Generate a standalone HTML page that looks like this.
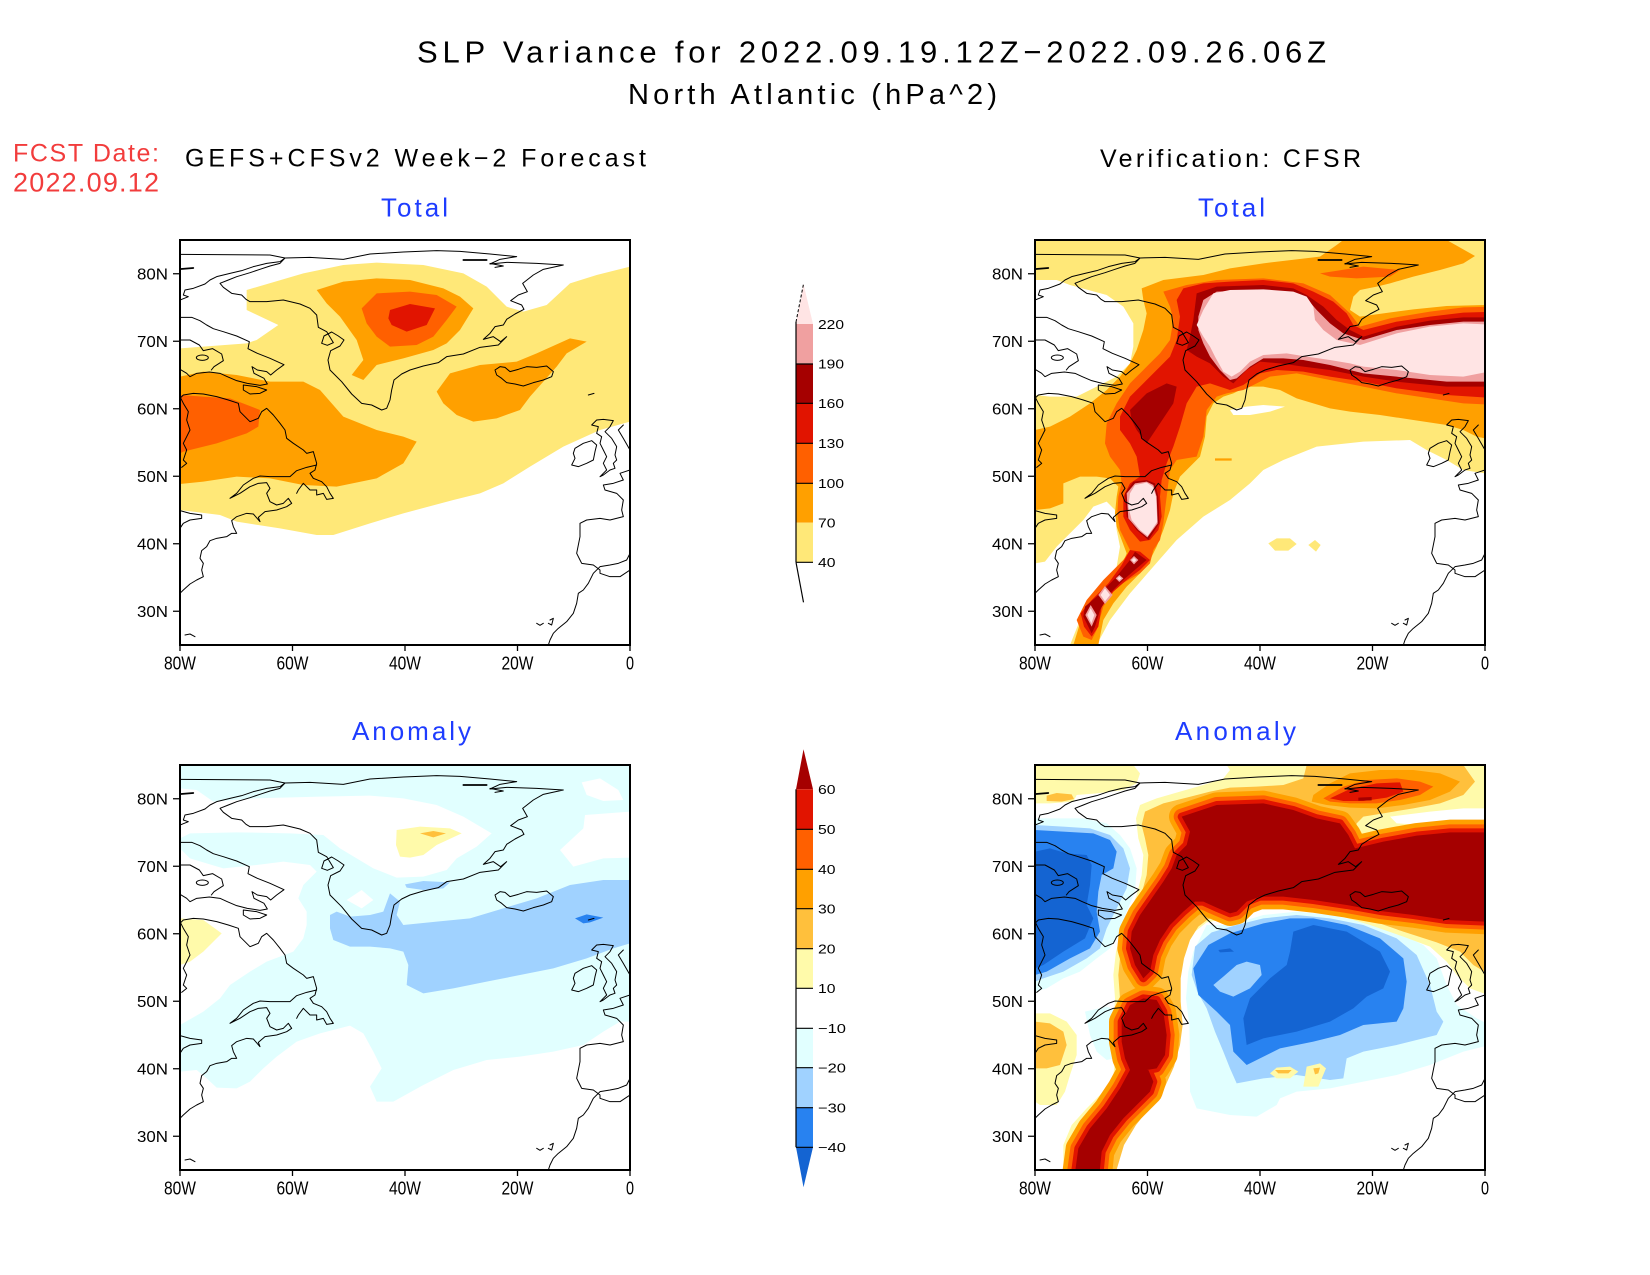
<!DOCTYPE html>
<html><head><meta charset="utf-8"><title>SLP Variance</title>
<style>html,body{margin:0;padding:0;background:#fff;}svg{display:block;}text{font-family:"Liberation Sans",Arial,sans-serif;}</style>
</head><body>
<svg xmlns="http://www.w3.org/2000/svg" xmlns:xlink="http://www.w3.org/1999/xlink" width="1650" height="1275" viewBox="0 0 1650 1275">
<rect width="1650" height="1275" fill="#fff"/>
<defs>
<g id="coast" fill="none" stroke="#000" stroke-width="3" stroke-linejoin="round" stroke-linecap="round">
<path d="M30,73 L300,75 L345,84 L330,95 L290,100 L250,110 L215,122 L180,130 L140,140 L120,150 L105,162 L70,175 L45,180 L40,195 L55,200 L30,210"/>
<path d="M33,117 L70,114" stroke-width="5"/>
<path d="M345,84 L420,82 L520,88 L600,72 L700,66 L800,62 L870,64 L960,72 L1040,80 L990,88 L960,102 L1010,97 L1100,100 L1180,105 L1120,118 L1090,135 L1058,160 L1072,185 L1045,195 L1022,212 L1055,225 L1062,238 L1035,252 L1010,268 L1000,285 L975,290 L960,310 L940,328 L970,320 L992,335 L1010,320 L985,345 L930,352 L880,372 L830,380 L805,398 L760,408 L720,420 L695,432 L672,450 L665,480 L660,510 L650,535 L635,540 L605,525 L575,520 L545,492 L515,455 L480,420 L474,390 L482,362 L510,348 L522,330 L505,318 L485,306 L462,318 L455,340 L472,346 L490,338 L470,305 L445,292 L440,255 L420,235 L390,222 L340,210 L290,215 L240,215 L228,208 L215,195 L185,190 L160,172 L150,160 L175,150 L200,140 L240,128 L270,118 L300,108 L330,100 L345,84"/>
<path d="M880,90 L950,90" stroke-width="5"/>
<path d="M960,100 L1000,108 L975,112"/>
<path d="M30,262 L65,262 L90,272 L110,285 L130,296 L160,305 L200,318 L238,335 L234,356 L262,370 L300,385 L342,404 L320,420 L302,435 L290,425 L262,420 L246,410 L252,430 L282,445 L292,462 L270,466 L232,460 L200,452 L172,440 L150,430 L118,426 L80,430 L60,440 L50,430 L30,418"/>
<path d="M30,330 L60,330 L88,345 L100,362 L128,356 L155,372 L160,392 L132,410 L124,420"/>
<ellipse cx="97" cy="383" rx="18" ry="8"/>
<path d="M220,465 L260,470 L290,480 L270,490 L240,492 L220,480 Z"/>
<path d="M30,505 L40,495 L70,490 L100,492 L140,500 L175,510 L205,520 L210,545 L225,560 L240,575 L265,565 L275,545 L290,535 L310,555 L330,580 L345,600 L350,625 L370,640 L400,660 L410,670 L430,665 L440,700 L435,720 L420,730 L430,745 L455,755 L470,770 L480,790 L490,805 L470,808 L460,790 L440,795 L440,780 L420,780 L400,760 L385,780 L380,790"/>
<path d="M440,705 L410,712 L380,722 L360,740 L300,740 L270,738 L250,745 L220,765 L200,790 L180,805 L210,790 L240,770 L265,760 L290,758 L300,775 L290,790 L300,815 L320,825 L340,820 L355,805 L365,820 L350,830 L320,840 L285,845 L265,862 L270,875 L250,852 L230,850 L200,860 L185,872 L190,890 L200,910 L185,910 L170,920 L140,925 L120,932 L110,950 L95,962 L90,985 L100,1000 L95,1020 L100,1040 L80,1050 L60,1062 L40,1080 L30,1090"/>
<path d="M30,500 L40,520 L55,545 L50,570 L60,600 L50,620 L40,640 L50,660 L40,690 L50,700 L35,712"/>
<path d="M30,842 L60,850 L95,855 L95,865 L60,870 L40,880 L30,895"/>
<path d="M975,420 L990,410 L1005,412 L1020,425 L1045,418 L1070,410 L1100,412 L1130,408 L1150,425 L1145,440 L1120,450 L1090,458 L1060,468 L1035,462 L1010,458 L995,445 L980,435 Z"/>
<path d="M1255,495 L1272,490"/>
<path d="M1215,655 L1240,640 L1265,632 L1280,645 L1275,665 L1270,690 L1250,700 L1225,710 L1205,705 L1215,685 L1210,670 Z"/>
<path d="M1265,585 L1280,570 L1300,568 L1330,572 L1320,590 L1305,605 L1325,625 L1340,650 L1335,675 L1340,690 L1330,700 L1335,715 L1320,720 L1300,735 L1290,740 L1310,720 L1300,700 L1310,680 L1300,660 L1290,640 L1295,620 L1280,610 L1285,590 Z"/>
<path d="M1360,585 L1345,600 L1360,625 L1380,660"/>
<path d="M1380,720 L1350,730 L1360,750 L1330,760 L1300,765 L1305,780 L1340,790 L1360,810 L1355,840 L1360,860 L1320,870 L1290,865 L1250,870 L1230,880 L1230,920 L1220,970 L1230,990 L1235,1000 L1270,1005 L1290,1020 L1290,1030 L1320,1040 L1350,1040 L1380,1020"/>
<path d="M1380,970 L1370,990 L1345,1000 L1320,1005 L1290,1010 L1270,1030 L1255,1060 L1240,1080 L1225,1090 L1220,1120 L1210,1150 L1190,1175 L1165,1195 L1150,1210 L1140,1230 L1135,1245"/>
<path d="M1100,1180 L1110,1186 L1120,1180"/>
<path d="M1140,1170 L1150,1165 L1145,1185 L1135,1180"/>
<path d="M45,1215 L60,1212 L75,1220"/>
</g>
</defs>

<!-- Titles -->
<text x="417" y="62.5" font-size="31" textLength="909" lengthAdjust="spacing" fill="#000">SLP Variance for 2022.09.19.12Z−2022.09.26.06Z</text>
<text x="628" y="104" font-size="29" textLength="369" lengthAdjust="spacing" fill="#000">North Atlantic (hPa^2)</text>
<text x="13" y="161.7" font-size="25" textLength="146" lengthAdjust="spacing" fill="#F23C3C">FCST Date:</text>
<text x="13" y="191.7" font-size="27" textLength="146" lengthAdjust="spacing" fill="#F23C3C">2022.09.12</text>
<text x="185" y="166.7" font-size="25" textLength="461" lengthAdjust="spacing" fill="#000">GEFS+CFSv2 Week−2 Forecast</text>
<text x="1100" y="167" font-size="25" textLength="261" lengthAdjust="spacing" fill="#000">Verification: CFSR</text>
<text x="381" y="216.7" font-size="26" textLength="67" lengthAdjust="spacing" fill="#1E3CFF">Total</text>
<text x="1198" y="216.7" font-size="26" textLength="67" lengthAdjust="spacing" fill="#1E3CFF">Total</text>
<text x="352" y="740" font-size="26" textLength="119" lengthAdjust="spacing" fill="#1E3CFF">Anomaly</text>
<text x="1175" y="740" font-size="26" textLength="121" lengthAdjust="spacing" fill="#1E3CFF">Anomaly</text>

<!-- TOP LEFT -->
<svg x="180" y="240" width="450" height="405" viewBox="30 30 1350 1215" preserveAspectRatio="none">
<polygon fill="#FFE878" points="30,355 230,340 260,330 325,285 230,240 230,180 400,130 520,105 620,98 760,105 880,130 950,170 1010,230 1060,245 1130,225 1200,160 1280,135 1380,110 1380,575 1290,600 1180,650 1080,710 1000,760 930,790 850,810 700,850 600,880 490,915 440,915 330,895 200,875 150,855 30,840"/>
<polygon fill="#FFA000" points="440,180 520,155 620,145 720,150 820,175 870,200 910,235 870,300 830,340 790,360 700,385 620,405 580,450 545,435 580,390 560,330 510,260 470,220"/>
<polygon fill="#FFA000" points="800,485 840,430 930,405 1040,395 1100,370 1200,325 1250,335 1190,370 1160,410 1120,455 1080,500 1050,540 980,565 910,575 860,555 820,520"/>
<polygon fill="#FFA000" points="30,440 100,425 200,435 300,455 400,455 450,480 520,560 620,600 700,620 740,635 700,700 620,745 500,770 400,765 300,745 200,740 100,755 30,762"/>
<polygon fill="#FF6000" points="575,235 620,190 720,185 800,195 860,230 830,270 790,320 740,345 660,350 620,320 590,280"/>
<polygon fill="#FF6000" points="30,495 100,500 180,505 270,540 265,590 230,610 140,640 40,665 30,670"/>
<polygon fill="#E11400" points="660,240 720,222 795,235 770,285 710,305 665,285 655,265"/>
<use xlink:href="#coast" href="#coast"/>
</svg>

<!-- TOP RIGHT -->
<svg x="1035" y="240" width="450" height="405" viewBox="15 30 1350 1215" preserveAspectRatio="none">
<rect x="0" y="0" width="1400" height="1300" fill="#FFE878"/>
<polygon fill="#fff" points="15,150 80,150 120,165 230,195 280,230 310,280 310,350 300,400 260,440 200,470 140,500 60,500 15,495"/>
<polygon fill="#fff" points="15,1000 45,995 80,950 110,920 160,870 190,830 230,815 255,840 260,900 270,950 260,1010 220,1060 180,1110 150,1170 120,1245 15,1245"/>
<polygon fill="#fff" points="200,1245 240,1170 300,1090 370,1010 440,930 520,860 600,810 660,760 700,720 760,690 860,650 1000,635 1140,630 1190,660 1250,690 1300,720 1365,730 1365,1245"/>
<polygon fill="#fff" points="600,540 650,530 700,525 765,530 720,545 660,555 610,555"/>
<polygon fill="#FFE878" points="715,940 740,925 780,925 800,942 775,962 735,962"/>
<polygon fill="#FFE878" points="835,945 855,930 872,945 858,965"/>
<polygon fill="#FFA000" points="555,685 605,685 605,692 555,692"/>
<polygon fill="#FFA000" points="340,210 335,175 400,150 520,135 600,115 700,100 870,80 920,45 940,30 1250,30 1335,78 1300,100 1230,120 1150,140 1080,160 1040,170 990,180 970,200 960,240 990,260 1060,250 1150,238 1250,228 1365,225 1365,625 1340,620 1300,600 1250,585 1150,570 1050,555 960,545 900,535 800,505 750,480 700,470 650,470 610,490 580,500 550,520 530,560 525,620 510,680 480,710 450,740 430,790 420,840 400,900 380,950 360,990 330,1030 290,1070 250,1120 220,1170 205,1245 130,1245 150,1180 185,1120 230,1070 270,1020 290,970 275,930 260,890 255,850 260,800 265,770 240,745 200,740 150,740 100,760 100,820 60,835 15,840 15,600 60,590 120,560 180,520 230,480 270,440 300,400 320,360 340,300 350,250"/>
<polygon fill="#FF6000" points="870,130 1000,110 1110,120 1080,140 980,145 900,140"/>
<polygon fill="#FF6000" points="420,230 400,185 470,165 560,150 700,145 820,160 900,195 960,250 990,290 1080,265 1200,245 1300,232 1400,230 1400,525 1300,520 1200,505 1100,490 1000,470 900,450 800,430 720,440 680,460 640,480 590,490 560,500 530,540 520,620 500,680 440,690 420,720 410,800 400,880 390,930 370,960 360,1000 330,1030 260,1070 220,1130 200,1200 185,1230 160,1220 140,1170 170,1110 220,1050 280,990 300,960 290,940 270,900 262,850 265,800 275,760 270,720 240,680 225,640 230,580 260,520 300,460 350,410 390,370 420,330 430,270"/>
<polygon fill="#E11400" points="440,210 460,175 520,160 600,155 700,150 790,160 850,185 910,215 950,250 970,285 1000,300 1100,275 1200,260 1300,248 1400,245 1400,505 1250,495 1100,475 1000,455 900,440 820,425 740,420 690,430 640,465 600,480 540,460 500,470 470,520 450,590 430,650 410,700 395,750 390,800 395,860 385,900 360,930 330,935 300,900 280,860 280,800 300,760 330,740 320,680 300,640 270,600 270,560 300,500 340,460 380,420 420,380 440,330 450,260"/>
<polygon fill="#E11400" points="300,960 330,965 360,990 330,1020 290,1050 250,1085 215,1130 205,1190 185,1220 162,1190 152,1150 185,1110 235,1060 275,1005"/>
<polygon fill="#A50000" points="490,270 500,190 560,170 700,165 790,175 830,195 880,230 920,270 960,300 1000,320 1100,290 1200,272 1300,262 1400,262 1400,470 1250,470 1100,455 1000,440 900,420 820,410 750,400 690,395 650,420 610,460 580,440 540,400 500,380 470,360 480,320"/>
<polygon fill="#A50000" points="305,570 300,540 350,490 410,460 440,470 430,520 390,580 350,640 320,600"/>
<polygon fill="#A50000" points="290,860 285,790 310,755 350,750 375,760 385,800 388,880 355,930 320,900"/>
<polygon fill="#A50000" points="165,1130 200,1100 255,1045 300,990 315,965 350,990 320,1015 280,1050 240,1090 210,1140 195,1190 185,1210 160,1160"/>
<polygon fill="#F0A0A0" points="505,300 505,260 520,210 560,185 700,180 800,190 830,205 860,240 900,280 940,310 1000,330 1100,300 1200,285 1300,275 1400,275 1400,455 1250,455 1100,440 1000,430 900,405 820,390 760,385 700,385 660,410 620,445 600,450 570,420 540,380 520,340"/>
<polygon fill="#F0A0A0" points="295,865 290,790 315,760 350,755 370,765 380,800 383,880 352,922 325,900"/>
<polygon fill="#FFE4E4" points="520,320 500,285 520,240 550,190 600,180 700,178 790,185 830,200 850,230 855,270 880,300 920,330 990,345 1100,310 1200,290 1300,280 1400,285 1400,420 1300,440 1200,435 1100,420 1000,410 960,400 900,390 830,380 770,370 700,375 660,395 630,425 605,440 580,425 555,380 540,350"/>
<polygon fill="#FFE4E4" points="295,830 300,790 315,765 350,758 368,770 378,800 382,875 353,918 330,900 305,870"/>
<polygon fill="#F0A0A0" points="312,978 325,990 312,1003 300,990"/>
<polygon fill="#FFE4E4" points="312,984 319,990 312,997 305,990"/>
<polygon fill="#F0A0A0" points="268,1035 280,1045 268,1056 257,1045"/>
<polygon fill="#FFE4E4" points="268,1040 274,1045 268,1051 262,1045"/>
<polygon fill="#F0A0A0" points="225,1068 248,1095 225,1122 205,1095"/>
<polygon fill="#FFE4E4" points="225,1075 240,1095 225,1114 212,1095"/>
<polygon fill="#F0A0A0" points="182,1125 200,1155 185,1190 166,1155"/>
<polygon fill="#FFE4E4" points="182,1135 193,1155 184,1180 172,1155"/>
<g transform="translate(-15,0)"><use xlink:href="#coast" href="#coast"/></g>
</svg>

<!-- BOTTOM LEFT -->
<svg x="180" y="765" width="450" height="405" viewBox="30 20 1350 1215" preserveAspectRatio="none">
<rect x="0" y="0" width="1400" height="1300" fill="#E1FFFF"/>
<polygon fill="#fff" points="30,90 80,95 130,130 250,120 450,115 600,112 700,120 800,140 880,175 965,225 920,265 860,300 830,335 760,355 680,358 610,330 560,300 510,270 460,230 360,225 200,222 60,225 30,240"/>
<polygon fill="#fff" points="30,270 60,300 160,330 260,320 340,310 420,320 440,340 400,380 385,420 410,460 410,500 400,540 370,580 330,595 290,610 240,640 180,680 150,720 100,760 30,800"/>
<polygon fill="#fff" points="1235,72 1290,60 1345,95 1360,125 1300,128 1250,110"/>
<polygon fill="#fff" points="1380,160 1245,170 1240,210 1170,275 1210,325 1300,300 1380,298"/>
<polygon fill="#fff" points="530,425 575,395 610,425 575,450"/>
<polygon fill="#fff" points="30,940 80,935 110,960 140,988 200,990 240,970 280,930 320,895 380,850 450,825 540,802 580,825 610,880 635,930 600,985 620,1030 670,1030 760,980 850,935 950,905 1050,895 1150,880 1240,860 1300,820 1350,790 1380,790 1380,1240 30,1240"/>
<polygon fill="#A0D2FF" points="480,510 480,470 500,460 540,475 600,470 640,460 660,405 690,430 680,470 700,500 800,490 900,480 1000,450 1100,420 1200,380 1300,365 1380,365 1380,555 1330,570 1250,600 1150,630 1050,650 950,670 850,690 760,705 710,680 715,620 700,580 660,570 600,565 540,565 490,545"/>
<polygon fill="#A0D2FF" points="705,378 760,368 840,372 820,390 760,395 710,388"/>
<polygon fill="#2882F0" points="1215,480 1250,468 1300,478 1260,492 1240,495"/>
<polygon fill="#FFFAAA" points="30,480 100,485 155,525 100,580 60,610 30,620"/>
<polygon fill="#FFFAAA" points="680,215 750,205 840,210 875,225 800,260 760,290 720,298 690,295 678,260"/>
<polygon fill="#FFC03C" points="750,225 790,218 828,225 790,237"/>
<g transform="translate(0,-10)"><use xlink:href="#coast" href="#coast"/></g>
</svg>

<!-- BOTTOM RIGHT -->
<svg x="1035" y="765" width="450" height="405" viewBox="15 20 1350 1215" preserveAspectRatio="none">
<rect x="0" y="0" width="1400" height="1300" fill="#fff"/>
<polygon fill="#E1FFFF" points="15,180 80,180 160,180 230,195 270,230 300,270 320,330 315,400 290,460 270,520 240,570 200,600 150,640 100,660 50,690 15,700"/>
<polygon fill="#A0D2FF" points="15,200 100,205 180,210 240,230 280,270 300,330 290,390 260,450 230,510 210,570 170,600 100,640 40,660 15,670"/>
<polygon fill="#2882F0" points="15,215 100,220 190,225 240,245 260,280 250,330 215,350 205,400 200,460 210,520 180,570 120,600 50,640 15,650"/>
<polygon fill="#1464D2" points="15,280 60,270 110,285 170,290 185,320 180,380 170,440 190,480 165,540 100,580 40,620 15,630"/>
<polygon fill="#E1FFFF" points="165,760 230,745 270,760 265,820 255,900 230,905 200,880 180,830"/>
<polygon fill="#E1FFFF" points="530,500 600,500 700,470 800,460 900,470 1000,490 1100,520 1180,560 1220,600 1250,680 1280,740 1340,780 1380,800 1380,860 1300,880 1200,920 1100,950 1000,970 900,990 800,1000 750,1020 740,1040 680,1075 600,1070 500,1050 480,1000 480,900 478,800 468,720 475,640 490,580"/>
<polygon fill="#A0D2FF" points="485,650 495,565 545,522 620,500 700,480 800,470 900,480 1000,500 1100,540 1160,590 1200,680 1220,760 1240,790 1220,830 1100,860 1000,880 950,900 940,960 900,965 800,950 700,960 620,975 600,930 580,880 555,820 530,750 502,700"/>
<polygon fill="#2882F0" points="505,710 490,630 535,560 600,525 700,495 780,480 850,480 950,500 1050,540 1120,600 1130,670 1120,750 1100,790 1000,800 930,830 850,850 750,870 650,920 610,880 600,800 560,760"/>
<polygon fill="#1464D2" points="780,580 790,520 850,500 950,520 1050,580 1080,640 1060,690 1010,715 970,750 900,790 800,820 700,840 650,860 640,780 660,720 720,660 770,620"/>
<polygon fill="#A0D2FF" points="550,680 580,655 620,620 650,610 690,620 695,650 660,690 610,715 570,700"/>
<polygon fill="#1464D2" points="565,575 600,570 612,580 570,582"/>
<polygon fill="#FFFAAA" points="15,20 310,20 330,45 320,75 280,95 200,105 140,110 130,130 60,135 15,135"/>
<polygon fill="#FFC03C" points="50,112 80,104 125,108 132,122 95,130 50,128"/>
<polygon fill="#FFFAAA" points="15,765 60,765 110,790 140,830 140,890 120,950 105,1000 80,1040 30,1040 15,1030"/>
<polygon fill="#FFC03C" points="15,790 60,795 100,820 110,860 90,920 50,930 15,930"/>
<polygon fill="#FFFAAA" points="590,20 1380,20 1380,712 1320,690 1280,650 1250,610 1200,565 1120,535 1020,500 920,470 820,455 740,450 690,445 660,460 640,485 610,495 570,485 530,492 495,520 470,560 455,610 445,670 445,740 450,810 440,870 420,940 390,1000 345,1060 300,1115 265,1170 245,1240 100,1240 100,1160 125,1100 170,1050 220,1000 250,950 258,880 250,800 255,720 250,650 258,580 275,520 300,460 320,410 335,350 340,290 325,240 318,180 330,140 380,120 450,100 520,80 580,60 600,35"/>
<polygon fill="#fff" points="1080,175 1200,160 1300,150 1380,150 1380,195 1280,200 1180,200 1100,195"/>
<polygon fill="#FFC03C" points="345,240 335,200 345,160 400,135 470,118 540,100 600,88 680,85 760,80 820,60 830,20 1300,20 1335,70 1300,110 1230,135 1150,150 1060,165 1000,175 980,195 975,230 1000,245 1080,232 1180,215 1280,205 1380,200 1380,650 1330,620 1290,580 1220,552 1120,520 1020,485 920,458 820,442 740,438 695,435 665,450 645,475 612,485 575,475 535,482 505,505 480,545 462,600 452,660 452,730 458,800 450,860 432,925 405,985 362,1045 318,1100 282,1160 258,1240 112,1240 115,1165 140,1105 185,1060 235,1010 265,960 275,880 265,800 270,720 265,650 272,580 290,520 315,460 335,405 350,350 355,290"/>
<polygon fill="#FFA000" points="850,110 900,75 960,45 1050,35 1150,35 1230,45 1290,70 1260,100 1200,125 1120,140 1040,150 960,148 890,140 845,130"/>
<polygon fill="#FF6000" points="880,120 940,85 1010,65 1100,60 1170,70 1210,85 1170,110 1110,125 1040,135 960,135 900,130"/>
<polygon fill="#E11400" points="900,120 960,92 1040,75 1110,72 1120,100 1070,118 1000,128 940,128"/>
<polygon fill="#A50000" points="985,118 1025,116 1025,126 985,127"/>
<g stroke-linejoin="round">
<g fill="#FFA000" stroke="#FFA000" stroke-width="76">
<polygon id="dr1" points="480,220 455,175 560,140 700,135 790,155 860,180 930,195 955,230 975,270 1060,250 1160,232 1260,222 1420,222 1420,492 1250,485 1150,470 1050,458 950,440 850,425 760,415 690,415 650,430 620,460 600,465 560,448 520,430 495,430 460,460 420,500 390,545 370,590 360,640 340,660 315,620 300,570 305,520 330,470 365,420 400,370 425,330 440,290 470,260"/>
<polygon id="dr2" points="300,740 340,720 380,725 400,760 410,830 405,890 380,930 350,935 300,935 285,900 275,850 275,790"/>
<polygon id="dr3" points="300,935 355,935 370,970 360,1000 320,1040 280,1080 240,1130 215,1180 205,1280 130,1280 145,1170 180,1110 230,1050 270,990"/>
</g>
<g fill="#FF6000" stroke="#FF6000" stroke-width="48">
<use xlink:href="#dr1" href="#dr1"/><use xlink:href="#dr2" href="#dr2"/><use xlink:href="#dr3" href="#dr3"/>
</g>
<g fill="#E11400" stroke="#E11400" stroke-width="24">
<use xlink:href="#dr1" href="#dr1"/><use xlink:href="#dr2" href="#dr2"/><use xlink:href="#dr3" href="#dr3"/>
</g>
</g>
<polygon fill="#A50000" points="480,220 455,175 560,140 700,135 790,155 860,180 930,195 955,230 975,270 1060,250 1160,232 1260,222 1420,222 1420,492 1250,485 1150,470 1050,458 950,440 850,425 760,415 690,415 650,430 620,460 600,465 560,448 520,430 495,430 460,460 420,500 390,545 370,590 360,640 340,660 315,620 300,570 305,520 330,470 365,420 400,370 425,330 440,290 470,260"/>
<polygon fill="#A50000" points="300,740 340,720 380,725 400,760 410,830 405,890 380,930 350,935 300,935 285,900 275,850 275,790"/>
<polygon fill="#A50000" points="300,935 355,935 370,970 360,1000 320,1040 280,1080 240,1130 215,1180 205,1280 130,1280 145,1170 180,1110 230,1050 270,990"/>
<polygon fill="#FFFAAA" points="720,945 740,928 780,925 805,940 780,960 740,960"/>
<polygon fill="#FFC03C" points="735,935 785,935 775,945 745,945"/>
<polygon fill="#FFFAAA" points="825,955 830,925 870,915 888,930 865,985 820,985"/>
<polygon fill="#FFC03C" points="850,930 870,928 865,945 855,948"/>
<g transform="translate(-15,-10)"><use xlink:href="#coast" href="#coast"/></g>
</svg>

<!-- Panel frames -->
<g fill="none" stroke="#000" stroke-width="2">
<rect x="180" y="240" width="450" height="405"/>
<rect x="1035" y="240" width="450" height="405"/>
<rect x="180" y="765" width="450" height="405"/>
<rect x="1035" y="765" width="450" height="405"/>
</g>
<g stroke="#000" stroke-width="1.3">
<path d="M173,273.75H180M173,341.25H180M173,408.75H180M173,476.25H180M173,543.75H180M173,611.25H180"/>
<path d="M1028,273.75H1035M1028,341.25H1035M1028,408.75H1035M1028,476.25H1035M1028,543.75H1035M1028,611.25H1035"/>
<path d="M173,798.75H180M173,866.25H180M173,933.75H180M173,1001.25H180M173,1068.75H180M173,1136.25H180"/>
<path d="M1028,798.75H1035M1028,866.25H1035M1028,933.75H1035M1028,1001.25H1035M1028,1068.75H1035M1028,1136.25H1035"/>
<path d="M180,645V651M292.5,645V651M405,645V651M517.5,645V651M630,645V651"/>
<path d="M1035,645V651M1147.5,645V651M1260,645V651M1372.5,645V651M1485,645V651"/>
<path d="M180,1170V1176M292.5,1170V1176M405,1170V1176M517.5,1170V1176M630,1170V1176"/>
<path d="M1035,1170V1176M1147.5,1170V1176M1260,1170V1176M1372.5,1170V1176M1485,1170V1176"/>
</g>
<g font-size="16" fill="#000" text-anchor="end">
<text x="168" y="279.6" textLength="31" lengthAdjust="spacingAndGlyphs">80N</text>
<text x="168" y="347.1" textLength="31" lengthAdjust="spacingAndGlyphs">70N</text>
<text x="168" y="414.6" textLength="31" lengthAdjust="spacingAndGlyphs">60N</text>
<text x="168" y="482.1" textLength="31" lengthAdjust="spacingAndGlyphs">50N</text>
<text x="168" y="549.6" textLength="31" lengthAdjust="spacingAndGlyphs">40N</text>
<text x="168" y="617.1" textLength="31" lengthAdjust="spacingAndGlyphs">30N</text>
<text x="1023" y="279.6" textLength="31" lengthAdjust="spacingAndGlyphs">80N</text>
<text x="1023" y="347.1" textLength="31" lengthAdjust="spacingAndGlyphs">70N</text>
<text x="1023" y="414.6" textLength="31" lengthAdjust="spacingAndGlyphs">60N</text>
<text x="1023" y="482.1" textLength="31" lengthAdjust="spacingAndGlyphs">50N</text>
<text x="1023" y="549.6" textLength="31" lengthAdjust="spacingAndGlyphs">40N</text>
<text x="1023" y="617.1" textLength="31" lengthAdjust="spacingAndGlyphs">30N</text>
<text x="168" y="804.6" textLength="31" lengthAdjust="spacingAndGlyphs">80N</text>
<text x="168" y="872.1" textLength="31" lengthAdjust="spacingAndGlyphs">70N</text>
<text x="168" y="939.6" textLength="31" lengthAdjust="spacingAndGlyphs">60N</text>
<text x="168" y="1007.1" textLength="31" lengthAdjust="spacingAndGlyphs">50N</text>
<text x="168" y="1074.6" textLength="31" lengthAdjust="spacingAndGlyphs">40N</text>
<text x="168" y="1142.1" textLength="31" lengthAdjust="spacingAndGlyphs">30N</text>
<text x="1023" y="804.6" textLength="31" lengthAdjust="spacingAndGlyphs">80N</text>
<text x="1023" y="872.1" textLength="31" lengthAdjust="spacingAndGlyphs">70N</text>
<text x="1023" y="939.6" textLength="31" lengthAdjust="spacingAndGlyphs">60N</text>
<text x="1023" y="1007.1" textLength="31" lengthAdjust="spacingAndGlyphs">50N</text>
<text x="1023" y="1074.6" textLength="31" lengthAdjust="spacingAndGlyphs">40N</text>
<text x="1023" y="1142.1" textLength="31" lengthAdjust="spacingAndGlyphs">30N</text>
</g>
<g font-size="18" fill="#000">
<text x="164" y="669.5" textLength="32" lengthAdjust="spacingAndGlyphs">80W</text>
<text x="276.5" y="669.5" textLength="32" lengthAdjust="spacingAndGlyphs">60W</text>
<text x="389" y="669.5" textLength="32" lengthAdjust="spacingAndGlyphs">40W</text>
<text x="501.5" y="669.5" textLength="32" lengthAdjust="spacingAndGlyphs">20W</text>
<text x="626" y="669.5" textLength="8" lengthAdjust="spacingAndGlyphs">0</text>
<text x="1019" y="669.5" textLength="32" lengthAdjust="spacingAndGlyphs">80W</text>
<text x="1131.5" y="669.5" textLength="32" lengthAdjust="spacingAndGlyphs">60W</text>
<text x="1244" y="669.5" textLength="32" lengthAdjust="spacingAndGlyphs">40W</text>
<text x="1356.5" y="669.5" textLength="32" lengthAdjust="spacingAndGlyphs">20W</text>
<text x="1481" y="669.5" textLength="8" lengthAdjust="spacingAndGlyphs">0</text>
<text x="164" y="1194.5" textLength="32" lengthAdjust="spacingAndGlyphs">80W</text>
<text x="276.5" y="1194.5" textLength="32" lengthAdjust="spacingAndGlyphs">60W</text>
<text x="389" y="1194.5" textLength="32" lengthAdjust="spacingAndGlyphs">40W</text>
<text x="501.5" y="1194.5" textLength="32" lengthAdjust="spacingAndGlyphs">20W</text>
<text x="626" y="1194.5" textLength="8" lengthAdjust="spacingAndGlyphs">0</text>
<text x="1019" y="1194.5" textLength="32" lengthAdjust="spacingAndGlyphs">80W</text>
<text x="1131.5" y="1194.5" textLength="32" lengthAdjust="spacingAndGlyphs">60W</text>
<text x="1244" y="1194.5" textLength="32" lengthAdjust="spacingAndGlyphs">40W</text>
<text x="1356.5" y="1194.5" textLength="32" lengthAdjust="spacingAndGlyphs">20W</text>
<text x="1481" y="1194.5" textLength="8" lengthAdjust="spacingAndGlyphs">0</text>
</g>

<polygon points="796,324 813,324 803.5,284" fill="#FFE4E4"/>
<line x1="796" y1="322" x2="803.5" y2="284" stroke="#000" stroke-width="1" stroke-dasharray="3,2"/>
<rect x="796" y="324" width="17" height="40" fill="#F0A0A0"/>
<rect x="796" y="364" width="17" height="39.3" fill="#A50000"/>
<rect x="796" y="403.3" width="17" height="40" fill="#E11400"/>
<rect x="796" y="443.3" width="17" height="40" fill="#FF6000"/>
<rect x="796" y="483.3" width="17" height="39.4" fill="#FFA000"/>
<rect x="796" y="522.7" width="17" height="39.6" fill="#FFE878"/>
<g stroke="#000" stroke-width="1.2">
<line x1="796" y1="322" x2="796" y2="562.3"/>
<line x1="796" y1="562.3" x2="803.5" y2="602.3"/>
<path d="M796,364H813M796,403.3H813M796,443.3H813M796,483.3H813M796,562.3H813"/>
</g>
<g font-size="13" fill="#000">
<text x="818" y="329" textLength="26" lengthAdjust="spacingAndGlyphs">220</text>
<text x="818" y="368.7" textLength="26" lengthAdjust="spacingAndGlyphs">190</text>
<text x="818" y="408" textLength="26" lengthAdjust="spacingAndGlyphs">160</text>
<text x="818" y="448" textLength="26" lengthAdjust="spacingAndGlyphs">130</text>
<text x="818" y="488" textLength="26" lengthAdjust="spacingAndGlyphs">100</text>
<text x="818" y="527.4" textLength="17.5" lengthAdjust="spacingAndGlyphs">70</text>
<text x="818" y="567" textLength="17.5" lengthAdjust="spacingAndGlyphs">40</text>
</g>

<polygon points="796,789.3 813,789.3 803.5,749.3" fill="#A50000"/>
<rect x="796" y="789.3" width="17" height="40" fill="#E11400"/>
<rect x="796" y="829.3" width="17" height="40" fill="#FF6000"/>
<rect x="796" y="869.3" width="17" height="39.4" fill="#FFA000"/>
<rect x="796" y="908.7" width="17" height="40" fill="#FFC03C"/>
<rect x="796" y="948.7" width="17" height="39.6" fill="#FFFAAA"/>
<rect x="796" y="1028.3" width="17" height="39.4" fill="#E1FFFF"/>
<rect x="796" y="1067.7" width="17" height="40" fill="#A0D2FF"/>
<rect x="796" y="1107.7" width="17" height="39.6" fill="#2882F0"/>
<polygon points="796,1147.3 813,1147.3 803.5,1187.3" fill="#1464D2"/>
<g stroke="#000" stroke-width="1.2">
<line x1="796" y1="789.3" x2="796" y2="1147.3"/>
<path d="M796,829.3H813M796,869.3H813M796,908.7H813M796,948.7H813M796,988.3H813M796,1028.3H813M796,1067.7H813M796,1107.7H813M796,1147.3H813"/>
</g>
<g font-size="13" fill="#000">
<text x="818" y="794" textLength="17.5" lengthAdjust="spacingAndGlyphs">60</text>
<text x="818" y="834" textLength="17.5" lengthAdjust="spacingAndGlyphs">50</text>
<text x="818" y="874" textLength="17.5" lengthAdjust="spacingAndGlyphs">40</text>
<text x="818" y="913.4" textLength="17.5" lengthAdjust="spacingAndGlyphs">30</text>
<text x="818" y="953.4" textLength="17.5" lengthAdjust="spacingAndGlyphs">20</text>
<text x="818" y="993" textLength="17.5" lengthAdjust="spacingAndGlyphs">10</text>
<text x="818" y="1033" textLength="28" lengthAdjust="spacingAndGlyphs">−10</text>
<text x="818" y="1072.4" textLength="28" lengthAdjust="spacingAndGlyphs">−20</text>
<text x="818" y="1112.4" textLength="28" lengthAdjust="spacingAndGlyphs">−30</text>
<text x="818" y="1152" textLength="28" lengthAdjust="spacingAndGlyphs">−40</text>
</g>
</svg>
</body></html>
